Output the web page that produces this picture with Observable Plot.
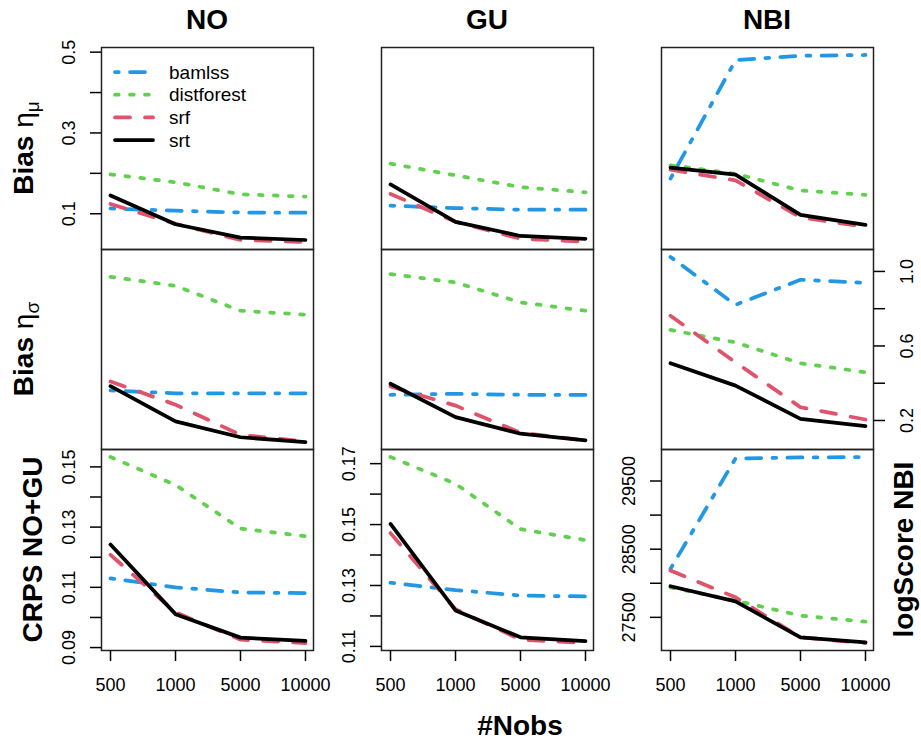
<!DOCTYPE html>
<html><head><meta charset="utf-8">
<script src="https://cdn.jsdelivr.net/npm/d3@7"></script>
<script src="https://cdn.jsdelivr.net/npm/@observablehq/plot@0.6"></script>
<style>
body{margin:0;background:#fff;}
#chart{position:relative;width:921px;height:744px;font-family:"Liberation Sans",Arial,Helvetica,sans-serif;}
#chart svg{position:absolute;overflow:visible;}
</style></head><body><div id="chart"></div>
<script>
// ---- data ----
const nobs = ["500", "1000", "5000", "10000"];
const methods = ["bamlss", "distforest", "srf", "srt"];
const families = ["NO", "GU", "NBI"];

// rows of each array follow `methods`
const biasMuNO  = [[0.113, 0.1075, 0.103, 0.1025], [0.1975, 0.178, 0.148, 0.1425], [0.124, 0.075, 0.035, 0.030], [0.145, 0.074, 0.041, 0.035]];
const biasMuGU  = [[0.120, 0.114, 0.110, 0.110], [0.224, 0.195, 0.166, 0.153], [0.149, 0.080, 0.038, 0.031], [0.1725, 0.080, 0.045, 0.038]];
const biasMuNBI = [[0.187, 0.480, 0.491, 0.493], [0.220, 0.199, 0.1575, 0.147], [0.209, 0.1825, 0.091, 0.0675], [0.214, 0.197, 0.097, 0.0725]];

const biasSigNO  = [[0.361, 0.346, 0.346, 0.346], [0.971, 0.923, 0.789, 0.768], [0.409, 0.285, 0.123, 0.087], [0.384, 0.195, 0.110, 0.084]];
const biasSigGU  = [[0.338, 0.343, 0.338, 0.338], [0.986, 0.941, 0.834, 0.789], [0.382, 0.280, 0.134, 0.093], [0.397, 0.218, 0.129, 0.093]];
const biasSigNBI = [[1.078, 0.821, 0.955, 0.939], [0.686, 0.619, 0.507, 0.459], [0.762, 0.512, 0.271, 0.205], [0.507, 0.387, 0.209, 0.170]];

const crpsNO = [[0.1130, 0.1100, 0.1083, 0.1081], [0.1533, 0.1440, 0.1295, 0.1270], [0.1208, 0.1017, 0.0926, 0.0915], [0.1242, 0.1011, 0.0933, 0.0922]];
const crpsGU = [[0.1309, 0.1285, 0.1267, 0.1264], [0.1722, 0.1634, 0.1485, 0.1449], [0.1472, 0.1222, 0.1122, 0.1111], [0.1502, 0.1218, 0.1130, 0.1117]];
const logScoreNBI = [[28212, 29830, 29845, 29853], [27941, 27746, 27525, 27437], [28187, 27794, 27206, 27123], [27956, 27735, 27206, 27132]];

// tick values and their printed labels
const ticksMu = [0.1, 0.2, 0.3, 0.4, 0.5];
const labelsMu = ["0.1", "", "0.3", "", "0.5"];
const ticksSig = [0.2, 0.4, 0.6, 0.8, 1.0];
const labelsSig = ["0.2", "", "0.6", "", "1.0"];
const ticksCrpsNO = [0.09, 0.10, 0.11, 0.12, 0.13, 0.14, 0.15];
const labelsCrpsNO = ["0.09", "", "0.11", "", "0.13", "", "0.15"];
const ticksCrpsGU = [0.11, 0.12, 0.13, 0.14, 0.15, 0.16, 0.17];
const labelsCrpsGU = ["0.11", "", "0.13", "", "0.15", "", "0.17"];
const ticksLog = [27500, 28000, 28500, 29000, 29500];
const labelsLog = ["27500", "", "28500", "", "29500"];

// ---- style / layout ----
const LW = 3.75;
const lineColors = ["#2297E6", "#61D04F", "#DF536B", "#000000"];
const lineDash = [`${LW},${3*LW},${4*LW},${3*LW}`, `${LW},${3*LW}`, `${4*LW},${4*LW}`, undefined];
const colLeft = [101, 381, 661], panelW = 212;
const rowTop = [47, 249, 449], rowH = [202, 200, 201];
const M = {l: 70, r: 70, t: 10, b: 70};
const chart = document.getElementById("chart");

function ext(arrs) {
  const all = arrs.flat(2);
  const [a, b] = d3.extent(all);
  const e = (b - a) * 0.04;
  return [a - e, b + e];
}

function drawPanel(vals, r, c, yDomain, ax) {
  const data = [];
  vals.forEach((series, m) => series.forEach((v, i) => data.push({method: methods[m], nobs: nobs[i], value: v})));
  const marks = [];
  methods.forEach((m, k) => marks.push(Plot.line(data.filter(d => d.method === m), {
    x: "nobs", y: "value", stroke: lineColors[k], strokeWidth: LW,
    strokeDasharray: lineDash[k], strokeLinecap: "round", strokeLinejoin: "round"
  })));
  marks.push(Plot.frame({stroke: "#222", strokeWidth: 1.5}));
  if (ax.x) marks.push(Plot.axisX({anchor: "bottom", ticks: nobs, label: null, tickSize: 11, tickPadding: 17, fontSize: 18, strokeWidth: 1.5}));
  if (ax.y) marks.push(Plot.axisY({
    anchor: ax.y, ticks: ax.ticks, label: null, tickFormat: d => ax.labels[ax.ticks.indexOf(d)],
    tickSize: 11, tickPadding: 16, tickRotate: -90, textAnchor: "middle",
    lineAnchor: ax.y === "left" ? "bottom" : "top", fontSize: 18, strokeWidth: 1.5
  }));
  const svg = Plot.plot({
    width: panelW + M.l + M.r, height: rowH[r] + M.t + M.b,
    marginLeft: M.l, marginRight: M.r, marginTop: M.t, marginBottom: M.b,
    x: {type: "point", domain: nobs, padding: 0.12, label: null, axis: ax.x ? undefined : null},
    y: {domain: yDomain, label: null, axis: ax.y ? undefined : null},
    style: {background: "transparent", overflow: "visible", fontFamily: "'Liberation Sans', Arial, Helvetica, sans-serif", fontSize: "18px", color: "#000"},
    marks
  });
  svg.style.position = "absolute";
  svg.style.left = (colLeft[c] - M.l) + "px";
  svg.style.top = (rowTop[r] - M.t) + "px";
  chart.appendChild(svg);
}

const domMu = ext([biasMuNO, biasMuGU, biasMuNBI]);
const domSig = ext([biasSigNO, biasSigGU, biasSigNBI]);

drawPanel(biasMuNO, 0, 0, domMu, {y: "left", ticks: ticksMu, labels: labelsMu});
drawPanel(biasMuGU, 0, 1, domMu, {});
drawPanel(biasMuNBI, 0, 2, domMu, {});
drawPanel(biasSigNO, 1, 0, domSig, {});
drawPanel(biasSigGU, 1, 1, domSig, {});
drawPanel(biasSigNBI, 1, 2, domSig, {y: "right", ticks: ticksSig, labels: labelsSig});
drawPanel(crpsNO, 2, 0, ext([crpsNO]), {x: true, y: "left", ticks: ticksCrpsNO, labels: labelsCrpsNO});
drawPanel(crpsGU, 2, 1, ext([crpsGU]), {x: true, y: "left", ticks: ticksCrpsGU, labels: labelsCrpsGU});
drawPanel(logScoreNBI, 2, 2, ext([logScoreNBI]), {x: true, y: "left", ticks: ticksLog, labels: labelsLog});

// ---- titles, axis titles, legend ----
const ov = d3.create("svg").attr("width", 921).attr("height", 744)
  .style("left", "0px").style("top", "0px")
  .attr("font-family", "'Liberation Sans', Arial, Helvetica, sans-serif");

families.forEach((f, c) => ov.append("text").attr("x", colLeft[c] + panelW / 2).attr("y", 29)
  .attr("text-anchor", "middle").attr("font-size", 28).attr("font-weight", "bold").text(f));

function rotLabel(x, y, parts) {
  const t = ov.append("text").attr("transform", `translate(${x},${y}) rotate(-90)`).attr("text-anchor", "middle");
  parts.forEach(p => {
    const s = t.append("tspan").attr("font-size", p.size || 28).attr("font-weight", p.w || "bold").text(p.t);
    if (p.dy) s.attr("dy", p.dy);
  });
}
rotLabel(33, rowTop[0] + rowH[0] / 2, [{t: "Bias "}, {t: "η", w: "normal"}, {t: "μ", w: "normal", size: 19, dy: 6}]);
rotLabel(33, rowTop[1] + rowH[1] / 2, [{t: "Bias "}, {t: "η", w: "normal"}, {t: "σ", w: "normal", size: 19, dy: 6}]);
rotLabel(42, rowTop[2] + rowH[2] / 2, [{t: "CRPS NO+GU"}]);
rotLabel(913, rowTop[2] + rowH[2] / 2, [{t: "logScore NBI"}]);
ov.append("text").attr("x", 520).attr("y", 735).attr("text-anchor", "middle")
  .attr("font-size", 28).attr("font-weight", "bold").text("#Nobs");

const lg = ov.append("g");
methods.forEach((m, k) => {
  const y = 72 + k * 22.7;
  lg.append("line").attr("x1", 115).attr("x2", 153).attr("y1", y).attr("y2", y)
    .attr("stroke", lineColors[k]).attr("stroke-width", LW).attr("stroke-linecap", "round")
    .attr("stroke-dasharray", lineDash[k] || null);
  lg.append("text").attr("x", 169).attr("y", y).attr("dy", "0.35em").attr("font-size", 19).text(m);
});
chart.appendChild(ov.node());
</script></body></html>
